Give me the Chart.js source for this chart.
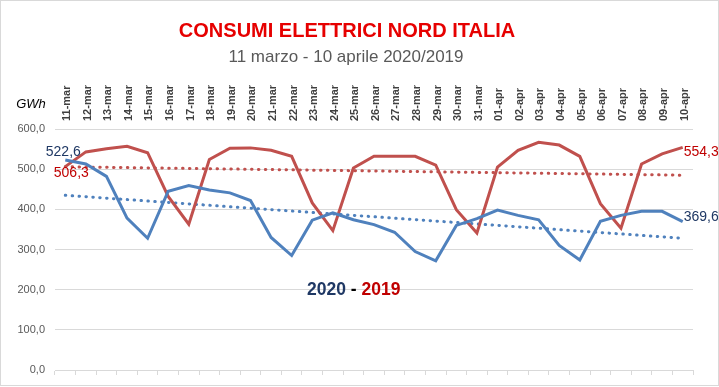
<!DOCTYPE html>
<html>
<head>
<meta charset="utf-8">
<script src="https://cdn.jsdelivr.net/npm/chart.js@4"></script>
<style>
  html, body { margin: 0; padding: 0; background: #fff; }
  canvas { display: block; }
</style>
</head>
<body>
<canvas id="chart" width="719" height="387"></canvas>
<script>
// --- DATI ---
const labels = [
  "11-mar", "12-mar", "13-mar", "14-mar", "15-mar", "16-mar", "17-mar", "18-mar",
  "19-mar", "20-mar", "21-mar", "22-mar", "23-mar", "24-mar", "25-mar", "26-mar",
  "27-mar", "28-mar", "29-mar", "30-mar", "31-mar", "01-apr", "02-apr", "03-apr",
  "04-apr", "05-apr", "06-apr", "07-apr", "08-apr", "09-apr", "10-apr"
];
const consumi2020 = [
  522.6, 513, 482, 378, 328, 445, 459, 448, 441, 422, 330, 285, 373, 391, 374, 362,
  343, 295, 272, 360, 377, 398, 385, 374, 310, 274, 370, 385, 395, 395, 369.6
];
const consumi2019 = [
  506.3, 543, 551, 557, 541, 432, 363, 524, 552, 553, 547, 532, 416, 347, 503, 532,
  532, 532, 510, 399, 341, 505, 547, 567, 560, 532, 414, 353, 513, 538, 554.3
];
// linee di tendenza: valori agli estremi
const trendDays = ["11-mar", "10-apr"];
const trend2020 = [435, 328];
const trend2019 = [506, 485];

const BLU = "#4f81bd";
const ROSSO = "#c0504d";
const FONT = "'Liberation Sans', Arial, sans-serif";

function fmt(v) {
  return v.toFixed(1).replace(".", ",");
}

// --- TESTI (titolo, etichette, legenda) ---
const testi = {
  id: "testi",
  beforeDraw(chart) {
    const ctx = chart.ctx;
    ctx.save();
    ctx.fillStyle = "#fff";
    ctx.fillRect(0, 0, chart.width, chart.height);
    ctx.restore();
  },
  afterDraw(chart) {
    const ctx = chart.ctx;
    ctx.save();
    ctx.textBaseline = "middle";

    // titolo
    ctx.textAlign = "center";
    ctx.fillStyle = "#e60000";
    ctx.font = "bold 20px " + FONT;
    ctx.fillText("CONSUMI ELETTRICI NORD ITALIA", 347, 31);
    ctx.fillStyle = "#595959";
    ctx.font = "17px " + FONT;
    ctx.fillText("11 marzo - 10 aprile 2020/2019", 346, 57);

    // unità
    ctx.fillStyle = "#000";
    ctx.font = "italic 13px " + FONT;
    ctx.fillText("GWh", 31, 104);

    // etichette primo / ultimo punto
    const m20 = chart.getDatasetMeta(0).data;
    const m19 = chart.getDatasetMeta(1).data;
    const last = labels.length - 1;
    ctx.font = "14px " + FONT;
    ctx.fillStyle = "#1f3864";
    ctx.fillText(fmt(consumi2020[0]), m20[0].x - 2, m20[0].y - 8);
    ctx.fillStyle = "#c00000";
    ctx.fillText(fmt(consumi2019[0]), m19[0].x + 6, m19[0].y + 7);
    ctx.textAlign = "left";
    ctx.fillText(fmt(consumi2019[last]), m19[last].x + 1, m19[last].y + 5);
    ctx.fillStyle = "#1f3864";
    ctx.fillText(fmt(consumi2020[last]), m20[last].x + 1, m20[last].y - 4);

    // legenda
    ctx.font = "bold 17.5px " + FONT;
    let x = 307;
    const parti = [["2020", "#1f3864"], [" - ", "#000"], ["2019", "#c00000"]];
    parti.forEach(([t, c]) => {
      ctx.fillStyle = c;
      ctx.fillText(t, x, 290);
      x += ctx.measureText(t).width;
    });

    // cornice
    ctx.strokeStyle = "#d9d9d9";
    ctx.lineWidth = 1;
    ctx.strokeRect(0.5, 0.5, 718, 385);
    ctx.restore();
  }
};

const trendStyle = {
  borderWidth: 3,
  borderDash: [0.5, 6.4],
  borderCapStyle: "round",
  pointRadius: 0,
  fill: false
};

new Chart(document.getElementById("chart"), {
  type: "line",
  data: {
    labels: labels,
    datasets: [
      {
        label: "2020",
        data: consumi2020,
        borderColor: BLU,
        borderWidth: 3,
        pointRadius: 0,
        tension: 0
      },
      {
        label: "2019",
        data: consumi2019,
        borderColor: ROSSO,
        borderWidth: 3,
        pointRadius: 0,
        tension: 0
      },
      Object.assign({
        label: "Tendenza 2020",
        data: trendDays.map((d, i) => ({ x: d, y: trend2020[i] })),
        borderColor: BLU
      }, trendStyle),
      Object.assign({
        label: "Tendenza 2019",
        data: trendDays.map((d, i) => ({ x: d, y: trend2019[i] })),
        borderColor: ROSSO
      }, trendStyle)
    ]
  },
  options: {
    responsive: false,
    animation: false,
    devicePixelRatio: 1,
    layout: { padding: { top: 60, right: 26, bottom: 0, left: 0 } },
    plugins: {
      legend: { display: false },
      tooltip: { enabled: false },
      title: { display: false }
    },
    scales: {
      x: {
        type: "category",
        position: "top",
        offset: true,
        grid: { display: false, drawTicks: false },
        border: { display: false },
        ticks: {
          autoSkip: false,
          minRotation: 90,
          maxRotation: 90,
          padding: 8,
          labelOffset: 15,
          color: "#404040",
          font: { family: FONT, size: 11, weight: "bold" }
        },
        afterFit: (scale) => { scale.height = 69; }
      },
      x2: {
        type: "category",
        position: "bottom",
        offset: true,
        grid: {
          offset: true,
          drawOnChartArea: false,
          drawTicks: true,
          tickLength: 5,
          color: "#d9d9d9"
        },
        border: { display: true, color: "#d9d9d9" },
        ticks: { display: false },
        afterFit: (scale) => { scale.height = 17; }
      },
      y: {
        min: 0,
        max: 600,
        ticks: {
          stepSize: 100,
          padding: 10,
          color: "#595959",
          font: { family: FONT, size: 11 },
          callback: (v) => fmt(v)
        },
        grid: { color: "#d9d9d9", drawTicks: false },
        border: { display: false },
        afterFit: (scale) => { scale.width = 55; }
      }
    }
  },
  plugins: [testi]
});
</script>
</body>
</html>
